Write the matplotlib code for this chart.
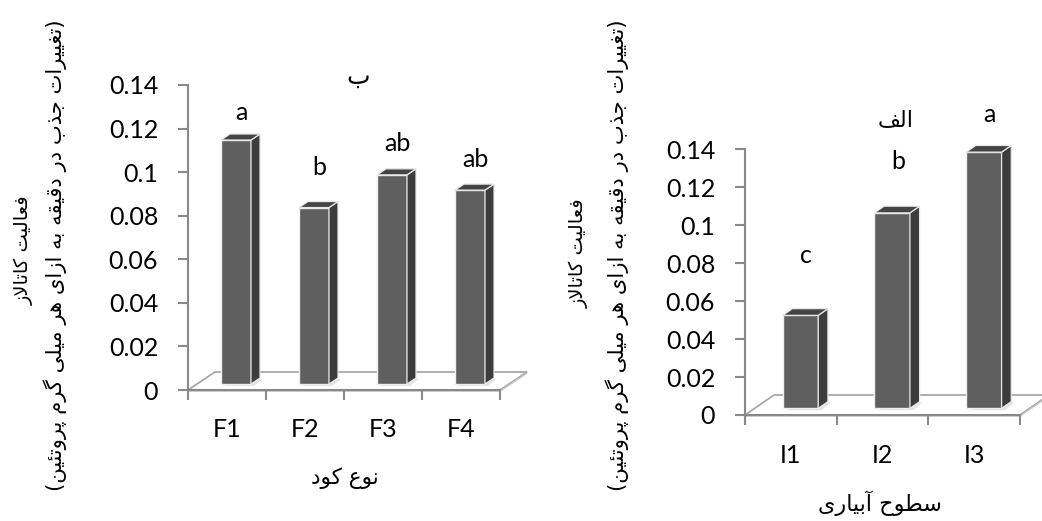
import numpy as np
import matplotlib
matplotlib.use("Agg")
import matplotlib.pyplot as plt
from matplotlib.patches import Polygon

# ---------------- data ----------------
cats_left = ["F1", "F2", "F3", "F4"]
vals_left = [0.112, 0.081, 0.096, 0.089]
letters_left = ["a", "b", "ab", "ab"]

cats_right = ["I1", "I2", "I3"]
vals_right = [0.049, 0.103, 0.135]
letters_right = ["c", "b", "a"]

yticks = [0, 0.02, 0.04, 0.06, 0.08, 0.10, 0.12, 0.14]
ytick_labels = ["0", "0.02", "0.04", "0.06", "0.08", "0.1", "0.12", "0.14"]

title_left = "ب"
title_right = "الف"
xlabel_left = "نوع کود"
xlabel_right = "سطوح آبیاری"
ylabel_line1 = "فعالیت کاتالاز"
ylabel_line2 = "(تغییرات جذب در دقیقه به ازای هر میلی گرم پروتئین)"

# ---------------- minimal Arabic/Persian shaping ----------------
_F = {
    'ا': ('\uFE8D', '\uFE8E', None, None),
    'آ': ('\uFE81', '\uFE82', None, None),
    'ب': ('\uFE8F', '\uFE90', '\uFE91', '\uFE92'),
    'پ': ('\uFB56', '\uFB57', '\uFB58', '\uFB59'),
    'ت': ('\uFE95', '\uFE96', '\uFE97', '\uFE98'),
    'ئ': ('\uFE89', '\uFE8A', '\uFE8B', '\uFE8C'),
    'ج': ('\uFE9D', '\uFE9E', '\uFE9F', '\uFEA0'),
    'ح': ('\uFEA1', '\uFEA2', '\uFEA3', '\uFEA4'),
    'د': ('\uFEA9', '\uFEAA', None, None),
    'ذ': ('\uFEAB', '\uFEAC', None, None),
    'ر': ('\uFEAD', '\uFEAE', None, None),
    'ز': ('\uFEAF', '\uFEB0', None, None),
    'س': ('\uFEB1', '\uFEB2', '\uFEB3', '\uFEB4'),
    'ط': ('\uFEC1', '\uFEC2', '\uFEC3', '\uFEC4'),
    'ع': ('\uFEC9', '\uFECA', '\uFECB', '\uFECC'),
    'غ': ('\uFECD', '\uFECE', '\uFECF', '\uFED0'),
    'ف': ('\uFED1', '\uFED2', '\uFED3', '\uFED4'),
    'ق': ('\uFED5', '\uFED6', '\uFED7', '\uFED8'),
    'ل': ('\uFEDD', '\uFEDE', '\uFEDF', '\uFEE0'),
    'م': ('\uFEE1', '\uFEE2', '\uFEE3', '\uFEE4'),
    'ن': ('\uFEE5', '\uFEE6', '\uFEE7', '\uFEE8'),
    'ه': ('\uFEE9', '\uFEEA', '\uFEEB', '\uFEEC'),
    'و': ('\uFEED', '\uFEEE', None, None),
    'ی': ('\uFBFC', '\uFBFD', '\uFBFE', '\uFBFF'),
    'ک': ('\uFB8E', '\uFB8F', '\uFB90', '\uFB91'),
    'گ': ('\uFB92', '\uFB93', '\uFB94', '\uFB95'),
}
_LAMALEF = {'ا': ('\uFEFB', '\uFEFC'), 'آ': ('\uFEF5', '\uFEF6')}


def shape(s):
    ch = list(s)
    n = len(ch)
    out = []
    i = 0
    while i < n:
        c = ch[i]
        if c not in _F:
            out.append(c)
            i += 1
            continue
        prev = ch[i - 1] if i > 0 else None
        conn_prev = prev in _F and _F[prev][2] is not None
        if c == 'ل' and i + 1 < n and ch[i + 1] in _LAMALEF:
            lig = _LAMALEF[ch[i + 1]]
            out.append(lig[1] if conn_prev else lig[0])
            i += 2
            continue
        f = _F[c]
        nxt = ch[i + 1] if i + 1 < n else None
        conn_next = f[2] is not None and nxt in _F
        if conn_prev and conn_next:
            g = f[3]
        elif conn_prev:
            g = f[1]
        elif conn_next:
            g = f[2]
        else:
            g = f[0]
        out.append(g)
        i += 1
    vis = ''.join(reversed(out))
    return vis.translate(str.maketrans('()', ')('))


# ---------------- figure ----------------
W, H = 1042, 521
fig = plt.figure(figsize=(W / 100, H / 100), dpi=100)
fig.patch.set_facecolor("white")

NUM_FONT = "Lato"
AR_FONT = "DejaVu Sans"
SPINE = "#898989"
FRONT = "#5f5f5f"
SIDE = "#3c3c3c"
TOP = "#444444"


def px_axes(x0, y0_bottom, x1, y1_top):
    # pixel box (image coords, y downward) -> axes
    return fig.add_axes([x0 / W, 1 - y0_bottom / H, (x1 - x0) / W, (y0_bottom - y1_top) / H])


def draw_panel(ax, cats, vals, letters, floor_px, bar_w, lab_off_px, tick_pad_x, tick_pad_y):
    n = len(cats)
    xmin, xmax = -0.5, n - 0.5
    ax.set_xlim(xmin, xmax)
    ax.set_ylim(0, 0.14)
    ax.set_facecolor("none")
    pos = ax.get_position()
    xpp = (xmax - xmin) / (pos.width * W)
    ypp = 0.14 / (pos.height * H)
    fdx, fdy = floor_px[0] * xpp, floor_px[1] * ypp
    ox, oy = fdx / 3, fdy / 3
    bdx, bdy = fdx / 3, fdy / 3

    # floor
    ax.add_patch(Polygon([(xmin, 0), (xmax, 0), (xmax + fdx, fdy), (xmin + fdx, fdy)],
                         closed=True, fc="white", ec="#a8a8a8", lw=1.3, zorder=1, clip_on=False))
    ax.add_patch(Polygon([(xmin, -1.2 * ypp), (xmax, -1.2 * ypp), (xmax + fdx, fdy - 1.2 * ypp)],
                         closed=False, fill=False, ec="#c8c8c8", lw=1.0, zorder=1, clip_on=False))

    xs = np.arange(n)
    # shadows
    for x in xs:
        xr = x + ox + bar_w / 2
        ax.add_patch(Polygon([(x + ox - bar_w / 2 + 2 * xpp, oy - 2 * ypp), (xr + 3 * xpp, oy - 2 * ypp),
                              (xr + bdx + 3 * xpp, oy + bdy - 1 * ypp), (xr, oy + bdy)],
                             closed=True, fc="#e4e4e4", ec="none", zorder=2, clip_on=False))

    ax.bar(xs + ox, vals, width=bar_w, bottom=oy, color=FRONT, edgecolor="#eeeeee",
           linewidth=1.0, zorder=3, clip_on=False)
    for x, v, lab, lo in zip(xs, vals, letters, lab_off_px):
        xl = x + ox - bar_w / 2
        xr = x + ox + bar_w / 2
        t = oy + v
        ax.add_patch(Polygon([(xr, oy), (xr + bdx, oy + bdy), (xr + bdx, t + bdy), (xr, t)],
                             closed=True, fc=SIDE, ec="#e6e6e6", lw=0.9, zorder=3, clip_on=False))
        ax.add_patch(Polygon([(xl, t), (xr, t), (xr + bdx, t + bdy), (xl + bdx, t + bdy)],
                             closed=True, fc=TOP, ec="#e6e6e6", lw=0.9, zorder=3, clip_on=False))
        ax.text(x + ox + bdx / 2 + 1 * xpp, t + lo * ypp, lab, ha="center", va="center",
                fontsize=18, family=NUM_FONT, color="black", zorder=5, clip_on=False)

    # axes styling
    for s in ("top", "right"):
        ax.spines[s].set_visible(False)
    for s in ("left", "bottom"):
        ax.spines[s].set_color(SPINE)
        ax.spines[s].set_linewidth(1.5)
        ax.spines[s].set_zorder(2)
    ax.set_yticks(yticks)
    ax.set_yticklabels(ytick_labels, family=NUM_FONT, fontsize=18)
    ax.set_xticks(np.arange(n + 1) - 0.5)
    ax.set_xticklabels([""] * (n + 1))
    ax.set_xticks(xs, minor=True)
    ax.set_xticklabels(cats, minor=True, family=NUM_FONT, fontsize=18)
    ax.tick_params(axis="y", which="major", length=7.5, width=1.5, color=SPINE, pad=tick_pad_y)
    ax.tick_params(axis="x", which="major", length=7.5, width=1.5, color=SPINE)
    ax.tick_params(axis="x", which="minor", length=0, pad=tick_pad_x)


# left panel
axL = px_axes(188, 390, 500, 85)
draw_panel(axL, cats_left, vals_left, letters_left, floor_px=(27, 18), bar_w=30 / 78,
           lab_off_px=[27, 40, 31, 31], tick_pad_x=20, tick_pad_y=14)
# right panel
axR = px_axes(745, 415, 1020, 149.3)
draw_panel(axR, cats_right, vals_right, letters_right, floor_px=(29, 20), bar_w=35.5 / 91.7,
           lab_off_px=[60, 51, 38], tick_pad_x=21, tick_pad_y=14)


def ftext(x, y, s, **kw):
    fig.text(x / W, 1 - y / H, shape(s), family=AR_FONT, color="black", ha="center", va="center", **kw)


ftext(358, 77, title_left, fontsize=18)
ftext(896, 120, title_right, fontsize=16)
ftext(345, 478, xlabel_left, fontsize=15.5)
ftext(880, 503, xlabel_right, fontsize=16)
ftext(24, 250, ylabel_line1, fontsize=14, rotation=90)
ftext(55, 255, ylabel_line2, fontsize=15.2, rotation=90)
ftext(579, 253, ylabel_line1, fontsize=14, rotation=90)
ftext(617, 255, ylabel_line2, fontsize=15.2, rotation=90)

fig.savefig("out.png", dpi=100, facecolor="white")
